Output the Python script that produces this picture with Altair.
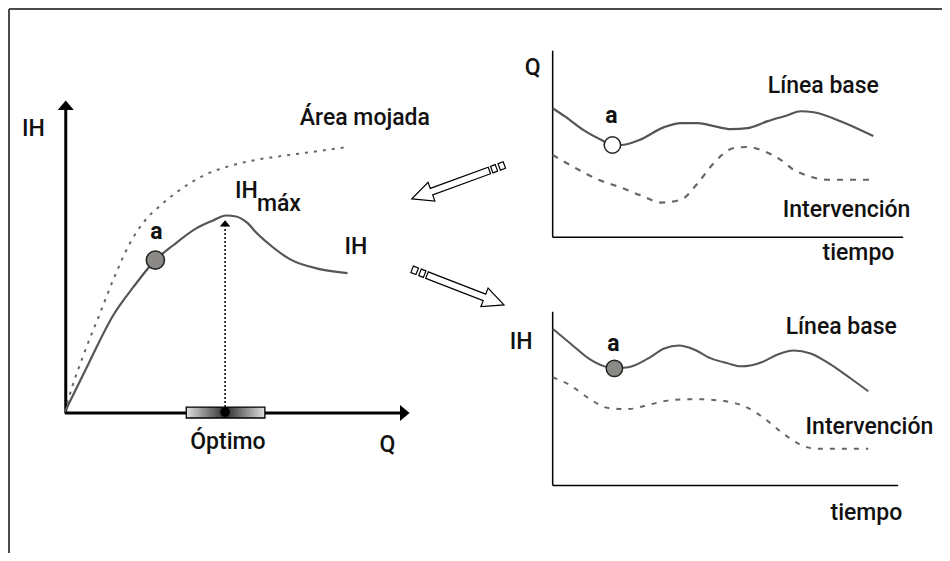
import altair as alt
import pandas as pd

# ---------------- data (diagram coordinates, reference pixel space) ----------------
# Left panel: IH vs Q
area_x = [61, 68, 80, 97, 110, 127, 140, 157, 177, 200, 227, 253, 287, 317, 345]
area_y = [411, 387, 353, 310, 277, 240, 220, 203, 187, 173, 163, 157, 152, 148, 144]
ih_x = [61, 85, 110, 130, 152, 170, 193, 210, 223, 233, 245, 253, 270, 287, 317, 345]
ih_y = [411, 362, 313, 285, 258, 243, 226, 218, 213, 214, 221, 230, 245, 257, 267, 271]

# Top-right panel: Q vs tiempo
top_base_x = [551, 563, 582, 600, 611, 620, 638, 663, 680, 697, 713, 730, 747, 767, 787, 800, 813, 840, 873]
top_base_y = [105, 113, 127, 137, 142, 142, 137, 124, 120, 120, 123, 126, 125, 118, 112, 108, 109, 118, 133]
top_int_x = [551, 570, 597, 620, 640, 660, 680, 697, 713, 733, 747, 760, 780, 793, 807, 827, 873]
top_int_y = [152, 163, 177, 185, 193, 200, 197, 180, 160, 145, 144, 147, 157, 167, 173, 177, 177]

# Bottom-right panel: IH vs tiempo
bot_base_x = [551, 570, 587, 603, 613, 627, 647, 663, 678, 693, 710, 727, 740, 763, 777, 793, 810, 830, 850, 868]
bot_base_y = [327, 343, 357, 365, 367, 366, 357, 347, 344, 348, 357, 362, 365, 360, 353, 349, 352, 363, 377, 390]
bot_int_x = [551, 567, 587, 607, 627, 650, 670, 693, 723, 743, 763, 783, 800, 817, 868]
bot_int_y = [376, 383, 397, 407, 408, 403, 399, 398, 400, 405, 417, 433, 444, 448, 448]

# Point "a" markers
a_x = [152, 611, 613]
a_y = [258, 142, 367]
a_fill = ["#8c8a87", "#ffffff", "#8c8a87"]

# Labels
label_text = ["IH", "Área mojada", "IH", "IH", "máx", "Óptimo", "Q",
              "Q", "Línea base", "Intervención", "tiempo",
              "IH", "Línea base", "Intervención", "tiempo"]
label_x = [18, 297, 342, 232, 254, 187, 377,
           523, 767, 782, 822,
           508, 785, 805, 830]
label_y = [133, 122, 252, 195, 208, 448, 451,
           71, 90, 215, 258,
           347, 332, 433, 520]
a_label_x = [153, 610, 612]
a_label_y = [237, 120, 350]

# Axis segments (x, y, x2, y2)
thick_axes = [(62, 105, 62, 412), (61, 412, 400, 412)]
thin_axes = [(551, 47, 551, 235), (551, 235, 903, 235),
             (551, 310, 551, 485), (551, 485, 898, 485)]
frame = [(5, 5, 950, 5), (5, 5, 5, 561)]

# ---------------- helpers ----------------
XS = alt.Scale(domain=[4, 942], nice=False, zero=False)
YS = alt.Scale(domain=[4, 553], nice=False, zero=False, reverse=True)


def xenc(f="x"):
    return alt.X(f"{f}:Q", scale=XS, axis=None)


def yenc(f="y"):
    return alt.Y(f"{f}:Q", scale=YS, axis=None)


def curve(xs, ys, **kw):
    df = pd.DataFrame({"x": xs, "y": ys, "o": range(len(xs))})
    return alt.Chart(df).mark_line(interpolate="monotone", **kw).encode(
        x=xenc(), y=yenc(), order="o:Q")


def segs(lst, **kw):
    df = pd.DataFrame(lst, columns=["x", "y", "x2", "y2"])
    return alt.Chart(df).mark_rule(**kw).encode(
        x=xenc(), y=yenc(), x2="x2:Q", y2="y2:Q")


FONT = "Roboto"
layers = []

# frame and axes
layers.append(segs(frame, color="#4a4a4a", strokeWidth=2))
layers.append(segs(thick_axes, color="#000000", strokeWidth=3))
layers.append(segs(thin_axes, color="#000000", strokeWidth=1.5))

# curves
layers.append(curve(area_x, area_y, color="#666666", strokeWidth=2, strokeDash=[3, 6]))
layers.append(curve(ih_x, ih_y, color="#555555", strokeWidth=2.2))
layers.append(curve(top_base_x, top_base_y, color="#555555", strokeWidth=2.2))
layers.append(curve(top_int_x, top_int_y, color="#666666", strokeWidth=2.2, strokeDash=[6, 7]))
layers.append(curve(bot_base_x, bot_base_y, color="#555555", strokeWidth=2))
layers.append(curve(bot_int_x, bot_int_y, color="#666666", strokeWidth=2, strokeDash=[5, 7]))

# optimum: dotted vertical arrow
opt_df = pd.DataFrame({"x": [222], "y": [410], "y2": [224]})
layers.append(alt.Chart(opt_df).mark_rule(color="#000000", strokeWidth=1.5, strokeDash=[2, 2]).encode(
    x=xenc(), y=yenc(), y2="y2:Q"))

# optimum range bar with gradient
bar_df = pd.DataFrame({"x": [183], "x2": [262], "y": [406], "y2": [417]})
grad = alt.Gradient(gradient="linear", x1=0, x2=1, y1=0, y2=0,
                    stops=[alt.GradientStop(offset=0, color="#e0e0e0"),
                           alt.GradientStop(offset=0.5, color="#2e2e2e"),
                           alt.GradientStop(offset=1, color="#e0e0e0")])
layers.append(alt.Chart(bar_df).mark_rect(fill=grad, stroke="#000000", strokeWidth=1.3).encode(
    x=xenc(), x2="x2:Q", y=yenc(), y2="y2:Q"))
dot_df = pd.DataFrame({"x": [222], "y": [411]})
layers.append(alt.Chart(dot_df).mark_point(shape="circle", filled=True, color="#000000", opacity=1, size=95).encode(
    x=xenc(), y=yenc()))

# arrow heads (triangles)
TRI = "M0,-0.6L1,0.6L-1,0.6Z"
head_df = pd.DataFrame({"x": [62, 402.5, 222], "y": [102, 412, 221],
                        "ang": [0, 90, 0], "s": [256, 256, 110]})
layers.append(alt.Chart(head_df).mark_point(shape=TRI, filled=True, color="#000000", opacity=1).encode(
    x=xenc(), y=yenc(), angle=alt.Angle("ang:Q", scale=None), size=alt.Size("s:Q", scale=None)))

# hollow block arrows between panels
ARROW = ("M1,0L0.58,-0.2L0.58,-0.07L-0.66,-0.07L-0.66,0.07L0.58,0.07L0.58,0.2Z"
         "M-0.71,-0.07L-0.81,-0.07L-0.81,0.07L-0.71,0.07Z"
         "M-0.87,-0.07L-0.98,-0.07L-0.98,0.07L-0.87,0.07Z")
arr_df = pd.DataFrame({"x": [456.5, 455.5], "y": [179, 285], "ang": [159.9, 21.2]})
layers.append(alt.Chart(arr_df).mark_point(shape=ARROW, filled=True, fill="#ffffff", stroke="#000000",
                                           strokeWidth=1.2, opacity=1, size=9900).encode(
    x=xenc(), y=yenc(), angle=alt.Angle("ang:Q", scale=None)))

# "a" markers
a_df = pd.DataFrame({"x": a_x, "y": a_y, "f": a_fill, "s": [330, 270, 270]})
layers.append(alt.Chart(a_df).mark_point(shape="circle", filled=True, stroke="#222222", strokeWidth=1.5,
                                         opacity=1).encode(
    x=xenc(), y=yenc(), fill=alt.Fill("f:N", scale=None), size=alt.Size("s:Q", scale=None)))

# labels
lab_df = pd.DataFrame({"x": label_x, "y": label_y, "t": label_text})
layers.append(alt.Chart(lab_df).mark_text(font=FONT, fontSize=23, fontWeight=500, align="left",
                                          baseline="alphabetic", color="#111111").encode(
    x=xenc(), y=yenc(), text="t:N"))
al_df = pd.DataFrame({"x": a_label_x, "y": a_label_y, "t": ["a", "a", "a"]})
layers.append(alt.Chart(al_df).mark_text(font=FONT, fontSize=23, fontWeight="bold", align="center",
                                         baseline="alphabetic", color="#111111").encode(
    x=xenc(), y=yenc(), text="t:N"))

chart = alt.layer(*layers).properties(
    width=934, height=545, padding=0, autosize=alt.AutoSizeParams(type="none"),
    background="#ffffff"
).configure_view(stroke=None)

chart.save("out.html", embed_options={"renderer": "svg", "actions": False})
